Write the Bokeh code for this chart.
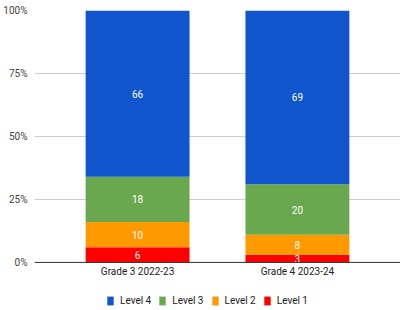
from bokeh.plotting import figure
from bokeh.models import ColumnDataSource, FixedTicker, PrintfTickFormatter, Legend, LegendItem, Span
from bokeh.core.properties import value
from bokeh.embed import file_html
from bokeh.resources import INLINE

categories = ["Grade 3 2022-23", "Grade 4 2023-24"]
levels = ["Level 1", "Level 2", "Level 3", "Level 4"]
level1 = [6, 3]
level2 = [10, 8]
level3 = [18, 20]
level4 = [66, 69]
colors = ["#ff0000", "#ff9900", "#6aa84f", "#1155cc"]
y_ticks = [0, 25, 50, 75, 100]

FONT = "Roboto"

data = {"cat": categories, "Level 1": level1, "Level 2": level2, "Level 3": level3, "Level 4": level4}
src = ColumnDataSource(data)

p = figure(x_range=categories, y_range=(-17.5, 100), width=400, height=306,
           output_backend="svg", toolbar_location=None,
           min_border_left=26, min_border_right=0, min_border_top=10, min_border_bottom=0)
p.x_range.range_padding = 0.145
p.x_range.range_padding_units = "absolute"
p.outline_line_color = None
p.background_fill_color = "white"
p.border_fill_color = "white"

renderers = p.vbar_stack(levels, x="cat", width=0.65, color=colors, source=src, line_color=None)

# segment labels
xs, ys, ts = [], [], []
series = [level1, level2, level3, level4]
for ci, c in enumerate(categories):
    base = 0
    for s in series:
        v = s[ci]
        xs.append(c)
        ys.append(base + v / 2)
        ts.append(str(v))
        base += v
p.text(x=xs, y=ys, text=ts, text_color="white", text_align="center", text_baseline="middle",
       text_font=value(FONT), text_font_size="10px")

# category labels (x axis)
p.xaxis.visible = False
p.text(x=categories, y=[0] * len(categories), text=categories, y_offset=4,
       text_color="#222222", text_align="center", text_baseline="top",
       text_font=value(FONT), text_font_size="10px")
p.add_layout(Span(location=0, dimension="width", line_color="#333333", line_width=1))

# y axis
p.yaxis.ticker = FixedTicker(ticks=y_ticks)
p.yaxis.formatter = PrintfTickFormatter(format="%d%%")
p.yaxis.axis_line_color = None
p.yaxis.major_tick_line_color = None
p.yaxis.minor_tick_line_color = None
p.yaxis.major_label_text_font = FONT
p.yaxis.major_label_text_font_size = "10px"
p.yaxis.major_label_text_color = "#444444"
p.yaxis.major_label_standoff = 1

p.xgrid.grid_line_color = None
p.ygrid.grid_line_color = "#cccccc"
p.ygrid.ticker = FixedTicker(ticks=y_ticks)

items = [LegendItem(label=levels[i], renderers=[renderers[i]]) for i in [3, 2, 1, 0]]
legend = Legend(items=items, orientation="horizontal", location=(72, 0),
                glyph_width=8, glyph_height=11, label_standoff=6, spacing=7,
                padding=0, margin=0, border_line_color=None, background_fill_alpha=0,
                label_text_font=FONT, label_text_font_size="10px", label_text_color="#222222",
                label_height=11)
p.add_layout(legend, "center")

open("out.html", "w").write(file_html(p, INLINE))
